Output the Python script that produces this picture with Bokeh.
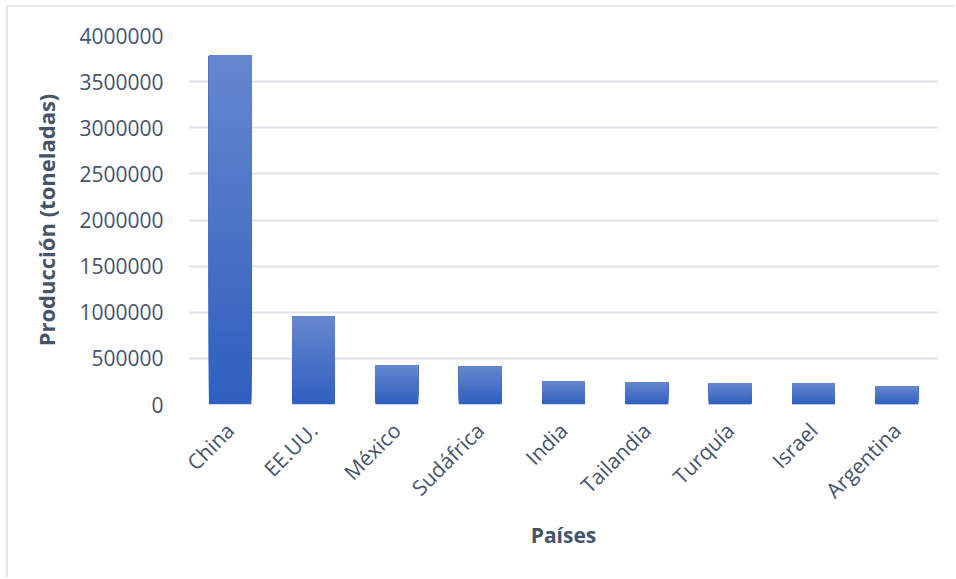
import numpy as np
from bokeh.plotting import figure
from bokeh.models import ColumnDataSource, FactorRange, Range1d, FixedTicker, NumeralTickFormatter
from bokeh.embed import file_html
from bokeh.resources import INLINE

# Producción por país (toneladas)
countries = ["China", "EE.UU.", "México", "Sudáfrica", "India",
             "Tailandia", "Turquía", "Israel", "Argentina"]
production = [3780000, 955000, 423000, 412000, 250000,
              240000, 229000, 228000, 196000]
y_ticks = [0, 500000, 1000000, 1500000, 2000000,
           2500000, 3000000, 3500000, 4000000]

TEXT = "#44546a"
FONT = "Open Sans"
BAR_BOTTOM = np.array([0x2f, 0x5f, 0xbf])
BAR_TOP = np.array([0x66, 0x87, 0xce])
STEPS = 60

# each bar is painted as overlapping layers, each starting a little higher
# and reaching the bar's top, so the colour shifts from bottom to top
xs, bottoms, tops, colors = [], [], [], []
for name, v in zip(countries, production):
    for k in range(STEPS):
        t = k / (STEPS - 1)
        c = BAR_BOTTOM + (BAR_TOP - BAR_BOTTOM) * t
        xs.append(name)
        bottoms.append(v * k / STEPS)
        tops.append(v)
        colors.append("#%02x%02x%02x" % tuple(int(round(x)) for x in c))

src = ColumnDataSource(dict(x=xs, bottom=bottoms, top=tops, color=colors))

p = figure(
    width=948, height=572,
    x_range=FactorRange(*countries, range_padding=0),
    y_range=Range1d(0, 4000000),
    output_backend="svg", toolbar_location=None,
    min_border_left=180, min_border_right=18,
    min_border_top=28, min_border_bottom=175,
    styles={"position": "absolute", "left": "6px", "top": "5px",
            "border-top": "2px solid #e3e6eb", "border-left": "2px solid #e3e6eb"},
)
p.outline_line_color = None
p.background_fill_color = "white"
p.border_fill_color = "white"

p.vbar(x="x", bottom="bottom", top="top", width=0.51, source=src,
       fill_color="color", line_color=None)

# axes
p.yaxis.ticker = FixedTicker(ticks=y_ticks)
p.yaxis.formatter = NumeralTickFormatter(format="0")
for ax in (p.xaxis, p.yaxis):
    ax.axis_line_color = None
    ax.major_tick_line_color = None
    ax.minor_tick_line_color = None
    ax.major_label_text_font = FONT
    ax.major_label_text_font_size = "21px"
    ax.major_label_text_color = TEXT
    ax.axis_label_text_font = FONT
    ax.axis_label_text_font_style = "bold"
    ax.axis_label_text_color = TEXT

p.yaxis.major_label_standoff = 19
p.yaxis.axis_label = "Producción (toneladas)"
p.yaxis.axis_label_text_font_size = "22px"
p.yaxis.axis_label_standoff = 15

p.xaxis.major_label_orientation = np.pi / 4
p.xaxis.major_label_standoff = 16
p.xaxis.axis_label = "Países"
p.xaxis.axis_label_text_font_size = "21px"
p.xaxis.axis_label_standoff = 4

p.xgrid.grid_line_color = None
p.ygrid.grid_line_color = "#e1e4e9"
p.ygrid.grid_line_width = 2

open("out.html", "w").write(file_html(p, INLINE))
